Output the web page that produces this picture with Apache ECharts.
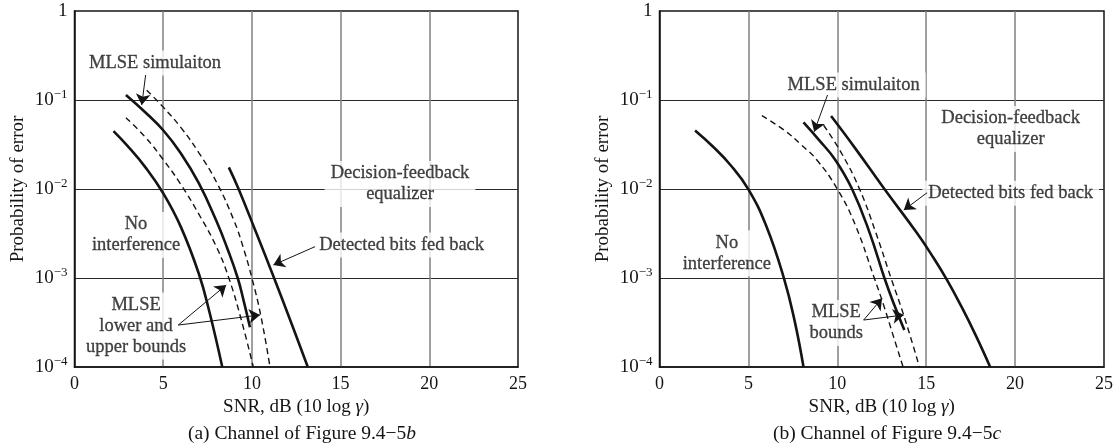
<!DOCTYPE html>
<html><head><meta charset="utf-8">
<script src="https://cdn.jsdelivr.net/npm/echarts@6/dist/echarts.min.js"></script>
<style>html,body{margin:0;padding:0;background:#fff}#c{width:1119px;height:446px}</style>
</head><body><div id="c"></div>
<script>
// ---------- data (x = SNR dB, y = probability of error) ----------
const xTicks = [0, 5, 10, 15, 20, 25];
const yTicks = [1e-4, 1e-3, 1e-2, 1e-1, 1];

// Panel (a): Channel of Figure 9.4-5b
const noInterfA = [[2.2,0.0447],[3,0.0303],[4,0.0175],[5,0.00895],[6,0.00373],[7,0.00113],[7.6,0.00042],[8.33,0.0001]];
const lowerA    = [[2.9,0.0632],[4,0.038],[5,0.0214],[6,0.0112],[7,0.00525],[8,0.00224],[8.7,0.001],[9.4,0.00034],[10.08,0.0001]];
const simA      = [[2.9,0.1138],[4,0.0724],[5,0.0457],[6,0.0251],[7,0.0117],[8,0.00437],[8.6,0.00219],[9.2,0.001],[9.55,0.00054],[9.89,0.00028]];
const upperA    = [[4.07,0.129],[5,0.0832],[6,0.049],[7,0.0257],[8,0.012],[9,0.00437],[9.5,0.00224],[10,0.001],[10.5,0.00038],[11.02,0.0001]];
const dfeA      = [[8.7,0.0175],[9.25,0.01],[10.25,0.0032],[11.25,0.001],[12.2,0.00032],[13.15,0.0001]];

// Panel (b): Channel of Figure 9.4-5c
const noInterfB = [[2.0,0.0454],[3,0.030],[4,0.0185],[5,0.0099],[6,0.00386],[7,0.00099],[7.6,0.00033],[8.1,0.0001]];
const lowerB    = [[5.76,0.0667],[7,0.046],[8,0.031],[8.85,0.0212],[10,0.01],[11,0.004],[12.08,0.001],[12.6,0.0005],[13.1,0.00024],[13.7,0.0001]];
const simB      = [[8.1,0.056],[9,0.035],[9.89,0.0212],[10.83,0.01],[11.8,0.0033],[12.65,0.001],[13.2,0.0005],[13.77,0.00026]];
const upperB    = [[9.23,0.052],[10.2,0.026],[11.25,0.01],[12.15,0.0033],[13.02,0.001],[13.74,0.00038],[14.62,0.0001]];
const dfeB      = [[9.65,0.066],[11,0.0288],[12.65,0.01],[14.5,0.00316],[15.4,0.0017],[16.2,0.00093],[17,0.00047],[17.8,0.000224],[18.6,0.0001]];

// annotation texts
const notesA = [
  {name:'MLSE simulaiton', value:[4.54, 0.26]},
  {name:'No\ninterference', value:[3.47, 0.00304]},
  {name:'MLSE\nlower and\nupper bounds', value:[3.47, 0.000289]},
  {name:'Decision-feedback\nequalizer', value:[18.35, 0.0114]},
  {name:'Detected bits fed back', value:[18.44, 0.00235]}
];
const arrowsA = [
  [[4.01,0.191],[3.79,0.0879]],
  [[5.85,0.000296],[8.55,0.000834]],
  [[5.85,0.000296],[10.46,0.000384]],
  [[13.56,0.00225],[11.21,0.0014]]
];
const notesB = [
  {name:'MLSE simulaiton', value:[10.92, 0.1475]},
  {name:'Decision-feedback\nequalizer', value:[19.75, 0.0472]},
  {name:'Detected bits fed back', value:[19.75, 0.00895]},
  {name:'No\ninterference', value:[3.79, 0.0019]},
  {name:'MLSE\nbounds', value:[9.94, 0.000312]}
];
const arrowsB = [
  [[9.45,0.1138],[8.70,0.044]],
  [[15.05,0.00908],[13.74,0.0058]],
  [[11.48,0.000337],[12.52,0.000592]],
  [[11.48,0.000337],[13.74,0.000384]]
];

// ---------- styling ----------
const FONT = '"Liberation Serif", "DejaVu Serif", serif';
const INK = '#141414';

function xAxisCfg(gi){
  return {
    gridIndex: gi, type:'value', min:xTicks[0], max:xTicks[xTicks.length-1], interval:5,
    name:'SNR, dB (10 log {i|γ})', nameLocation:'middle', nameGap:29,
    nameTextStyle:{fontFamily:FONT, fontSize:19, color:INK, rich:{i:{fontFamily:FONT, fontSize:19, fontStyle:'italic', color:INK}}},
    axisLine:{show:true, lineStyle:{color:INK, width:1.5}},
    axisTick:{show:false},
    axisLabel:{fontFamily:FONT, fontSize:18, color:INK, margin:8},
    splitLine:{show:true, showMinLine:false, showMaxLine:false, lineStyle:{color:'#808080', width:1.5}}
  };
}
function yAxisCfg(gi){
  return {
    gridIndex: gi, type:'log', logBase:10, min:yTicks[0], max:yTicks[yTicks.length-1],
    name:'Probability of error', nameLocation:'middle', nameGap:47,
    nameTextStyle:{fontFamily:FONT, fontSize:19, color:INK},
    axisLine:{show:true, lineStyle:{color:INK, width:1.5}},
    axisTick:{show:false},
    axisLabel:{
      margin:7, color:INK, fontFamily:FONT, fontSize:19,
      formatter:function(v){
        const e = Math.round(Math.log10(v));
        if (e === 0) return '{b|1}';
        return '{b|10}{s|−' + (-e) + '}';
      },
      rich:{
        b:{fontFamily:FONT, fontSize:19, color:INK},
        s:{fontFamily:FONT, fontSize:13, color:INK, padding:[0,0,11,0]}
      }
    },
    splitLine:{show:true, showMinLine:false, showMaxLine:false, lineStyle:{color:'#2a2a2a', width:1}}
  };
}
function curve(data, gi, dashed){
  return {
    type:'line', xAxisIndex:gi, yAxisIndex:gi, data:data, smooth:0.45,
    showSymbol:false, symbol:'none',
    lineStyle: dashed ? {color:INK, width:1.4, type:[6,4]} : {color:INK, width:2.6},
    z:5, silent:true, animation:false
  };
}
function notes(data, gi){
  return {
    type:'scatter', xAxisIndex:gi, yAxisIndex:gi, data:data, symbolSize:0.1, z:4, silent:true, animation:false,
    label:{show:true, position:'inside', formatter:'{b}', fontFamily:FONT, fontSize:18.5, lineHeight:21,
           color:INK, align:'center', verticalAlign:'middle', backgroundColor:'#fff', padding:[2,6],
           textBorderColor:INK, textBorderWidth:0.3}
  };
}
function arrows(list, gi){
  return {
    type:'lines', coordinateSystem:'cartesian2d', xAxisIndex:gi, yAxisIndex:gi, z:6, silent:true, animation:false,
    symbol:['none','arrow'], symbolSize:[6,11],
    lineStyle:{color:INK, width:1, opacity:1, curveness:0},
    data:list.map(c => ({coords:c}))
  };
}

const option = {
  animation:false,
  backgroundColor:'#fff',
  title:[
    {text:'(a) Channel of Figure 9.4−5{i|b}', left:297, top:419, textAlign:'center',
     textStyle:{fontFamily:FONT, fontSize:19.5, fontWeight:'normal', color:INK, rich:{i:{fontFamily:FONT, fontSize:19.5, fontStyle:'italic', color:INK}}}},
    {text:'(b) Channel of Figure 9.4−5{i|c}', left:882, top:419, textAlign:'center',
     textStyle:{fontFamily:FONT, fontSize:19.5, fontWeight:'normal', color:INK, rich:{i:{fontFamily:FONT, fontSize:19.5, fontStyle:'italic', color:INK}}}}
  ],
  grid:[
    {left:74.5, top:11, width:443.5, height:356, show:true, borderColor:INK, borderWidth:1.5, backgroundColor:'transparent'},
    {left:659.5, top:11, width:444.5, height:356, show:true, borderColor:INK, borderWidth:1.5, backgroundColor:'transparent'}
  ],
  xAxis:[xAxisCfg(0), xAxisCfg(1)],
  yAxis:[yAxisCfg(0), yAxisCfg(1)],
  series:[
    curve(noInterfA,0,false), curve(lowerA,0,true), curve(simA,0,false), curve(upperA,0,true), curve(dfeA,0,false),
    notes(notesA,0), arrows(arrowsA,0),
    curve(noInterfB,1,false), curve(lowerB,1,true), curve(simB,1,false), curve(upperB,1,true), curve(dfeB,1,false),
    notes(notesB,1), arrows(arrowsB,1)
  ]
};
const chart = echarts.init(document.getElementById('c'), null, {renderer:'canvas'});
chart.setOption(option);
</script></body></html>
